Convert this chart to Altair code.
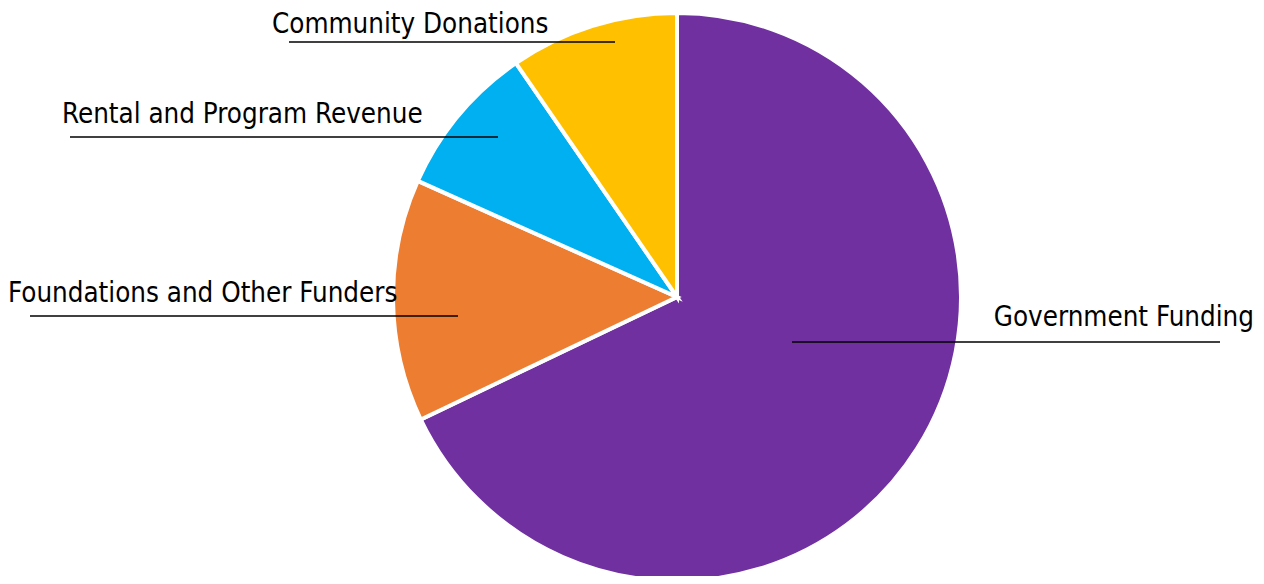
import altair as alt
import pandas as pd

categories = ["Government Funding", "Foundations and Other Funders",
              "Rental and Program Revenue", "Community Donations"]
shares = [67.9, 13.8, 8.7, 9.6]
colors = ["#7030A0", "#ED7D31", "#00B0F0", "#FFC000"]

df = pd.DataFrame({"category": categories, "share": shares,
                   "order": list(range(len(categories)))})

CX, CY, R = 669, 289, 284
FONT = "DejaVu Sans Condensed, Liberation Sans Narrow, Roboto"

pie = alt.Chart(df).mark_arc(radius=R, stroke="white", strokeWidth=4).encode(
    theta=alt.Theta("share:Q", stack=True),
    order=alt.Order("order:Q"),
    color=alt.Color("category:N", scale=alt.Scale(domain=categories, range=colors), legend=None),
    x=alt.value(CX), y=alt.value(CY),
)

# label annotation layout (text anchor, baseline, leader line)
ann = {
    "Community Donations": dict(tx=264, ty=25, align="left", lx1=281, lx2=607, ly=34),
    "Rental and Program Revenue": dict(tx=54, ty=115, align="left", lx1=62, lx2=490, ly=129),
    "Foundations and Other Funders": dict(tx=0, ty=294, align="left", lx1=22, lx2=450, ly=308),
    "Government Funding": dict(tx=1246, ty=318, align="right", lx1=784, lx2=1212, ly=334),
}

layers = [pie]
base = alt.Chart(pd.DataFrame({"d": [0]}))
for cat in categories:
    a = ann[cat]
    layers.append(base.mark_rule(color="black", strokeWidth=1.6).encode(
        x=alt.value(a["lx1"]), x2=alt.value(a["lx2"]), y=alt.value(a["ly"])))
    layers.append(base.mark_text(text=cat, font=FONT, fontSize=27.5, align=a["align"],
                                 baseline="alphabetic", color="black").encode(
        x=alt.value(a["tx"]), y=alt.value(a["ty"])))

chart = alt.layer(*layers).properties(
    width=1248, height=568, padding=0, autosize=alt.AutoSizeParams(type="none")
).configure_view(strokeOpacity=0, strokeWidth=0, fill="white")

chart.save("out.html", embed_options={"renderer": "svg", "actions": False})
